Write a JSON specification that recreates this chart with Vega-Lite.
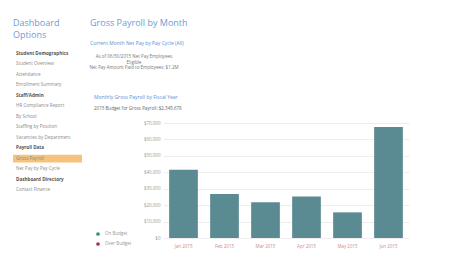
{
  "$schema": "https://vega.github.io/schema/vega-lite/v6.json",
  "background": "white",
  "padding": {"left": 13, "top": 19, "right": 5, "bottom": 5},
  "spacing": 7,
  "resolve": {"scale": {"color": "independent"}, "legend": {"color": "independent"}},
  "config": {
    "view": {"stroke": null},
    "font": "Open Sans",
    "title": {"anchor": "start", "fontWeight": "normal"}
  },
  "hconcat": [
    {
      "width": 69,
      "height": 144,
      "title": {"text": "Dashboard", "subtitle": "Options", "frame": "group", "fontSize": 9, "color": "#6d9bd6", "subtitleFontSize": 9, "subtitleColor": "#6d9bd6", "subtitlePadding": 3, "offset": 10},
      "data": {"values": [
        {"item": "Student Demographics", "kind": "header"},
        {"item": "Student Overview", "kind": "item"},
        {"item": "Attendance", "kind": "item"},
        {"item": "Enrollment Summary", "kind": "item"},
        {"item": "Staff/Admin", "kind": "header"},
        {"item": "HR Compliance Report", "kind": "item"},
        {"item": "By School", "kind": "item"},
        {"item": "Staffing by Position", "kind": "item"},
        {"item": "Vacancies by Department", "kind": "item"},
        {"item": "Payroll Data", "kind": "header"},
        {"item": "Gross Payroll", "kind": "active"},
        {"item": "Net Pay by Pay Cycle", "kind": "item"},
        {"item": "Dashboard Directory", "kind": "header"},
        {"item": "Contact Finance", "kind": "item"}
      ]},
      "encoding": {
        "y": {"field": "item", "type": "nominal", "sort": null, "axis": null, "scale": {"paddingInner": 0.25, "paddingOuter": 0}}
      },
      "layer": [
        {
          "mark": {"type": "rect", "color": "#f6c27c"},
          "encoding": {
            "x": {"datum": 0, "type": "quantitative", "scale": {"domain": [0, 1]}, "axis": null},
            "x2": {"datum": 1},
            "opacity": {"condition": {"test": "datum.kind === 'active'", "value": 1}, "value": 0}
          }
        },
        {
          "transform": [{"filter": "datum.kind !== 'header'"}],
          "mark": {"type": "text", "align": "left", "dx": 3, "fontSize": 4.6, "color": "#8a8a8a"},
          "encoding": {
            "x": {"datum": 0, "type": "quantitative"},
            "text": {"field": "item"}
          }
        },
        {
          "transform": [{"filter": "datum.kind === 'header'"}],
          "mark": {"type": "text", "align": "left", "dx": 3, "fontSize": 4.6, "fontWeight": "bold", "color": "#555555"},
          "encoding": {
            "x": {"datum": 0, "type": "quantitative"},
            "text": {"field": "item"}
          }
        }
      ]
    },
    {
      "spacing": 24,
      "resolve": {"scale": {"color": "independent"}, "legend": {"color": "independent"}},
      "vconcat": [
        {
          "width": 84,
          "height": 18.2,
          "title": {
            "text": "Gross Payroll by Month",
            "frame": "group",
            "dx": -73,
            "fontSize": 9,
            "color": "#6d9bd6",
            "subtitle": "Current Month Net Pay by Pay Cycle (All)",
            "subtitleColor": "#5a8fd8",
            "subtitleFontSize": 5,
            "subtitlePadding": 13,
            "offset": 4
          },
          "data": {"values": [
            {"line": "As of 06/30/2015 Net Pay Employees"},
            {"line": "Eligible"},
            {"line": "Net Pay Amount Paid to Employees: $1.2M"}
          ]},
          "mark": {"type": "text", "fontSize": 4.5, "color": "#777777", "dx": -71},
          "encoding": {
            "y": {"field": "line", "type": "nominal", "sort": null, "axis": null, "scale": {"type": "point", "padding": 0.655, "align": 1}},
            "text": {"field": "line"}
          }
        },
        {
          "width": 246,
          "height": 115,
          "title": {
            "text": "Monthly Gross Payroll by Fiscal Year",
            "frame": "group",
            "dx": -69,
            "fontSize": 5,
            "color": "#5a8fd8",
            "subtitle": "2015 Budget for Gross Payroll: $2,345,678",
            "subtitleFontSize": 4.5,
            "subtitleColor": "#666666",
            "subtitlePadding": 6,
            "offset": 10
          },
          "data": {"values": [
            {"month": "Jan 2015", "payroll": 41600, "series": "Actual"},
            {"month": "Feb 2015", "payroll": 26800, "series": "Actual"},
            {"month": "Mar 2015", "payroll": 21700, "series": "Actual"},
            {"month": "Apr 2015", "payroll": 25200, "series": "Actual"},
            {"month": "May 2015", "payroll": 15600, "series": "Actual"},
            {"month": "Jun 2015", "payroll": 67600, "series": "Actual"}
          ]},
          "mark": {"type": "bar"},
          "encoding": {
            "x": {
              "field": "month", "type": "nominal", "sort": null,
              "scale": {"paddingInner": 0.3, "paddingOuter": 0.15},
              "axis": {"title": null, "labelAngle": 0, "labelFontSize": 4.5, "labelColor": "#c98b8b", "domain": false, "ticks": false, "labelPadding": 5}
            },
            "y": {
              "field": "payroll", "type": "quantitative",
              "scale": {"domain": [0, 70000]},
              "axis": {"title": null, "values": [0, 10000, 20000, 30000, 40000, 50000, 60000, 70000], "format": "$,.0f", "labelFontSize": 4.5, "labelColor": "#999999", "domain": false, "ticks": false, "gridColor": "#eeeeee", "labelPadding": 3}
            },
            "color": {
              "field": "series", "type": "nominal",
              "scale": {"domain": ["Actual", "On Budget", "Over Budget"], "range": ["#5a8b92", "#3f8f6b", "#a33a52"]},
              "legend": {"values": ["On Budget", "Over Budget"], "orient": "none", "legendX": -68, "legendY": 108, "padding": 0, "title": null, "labelFontSize": 4.5, "labelColor": "#999999", "symbolType": "circle", "symbolSize": 14, "rowPadding": 5}
            }
          }
        }
      ]
    }
  ]
}
